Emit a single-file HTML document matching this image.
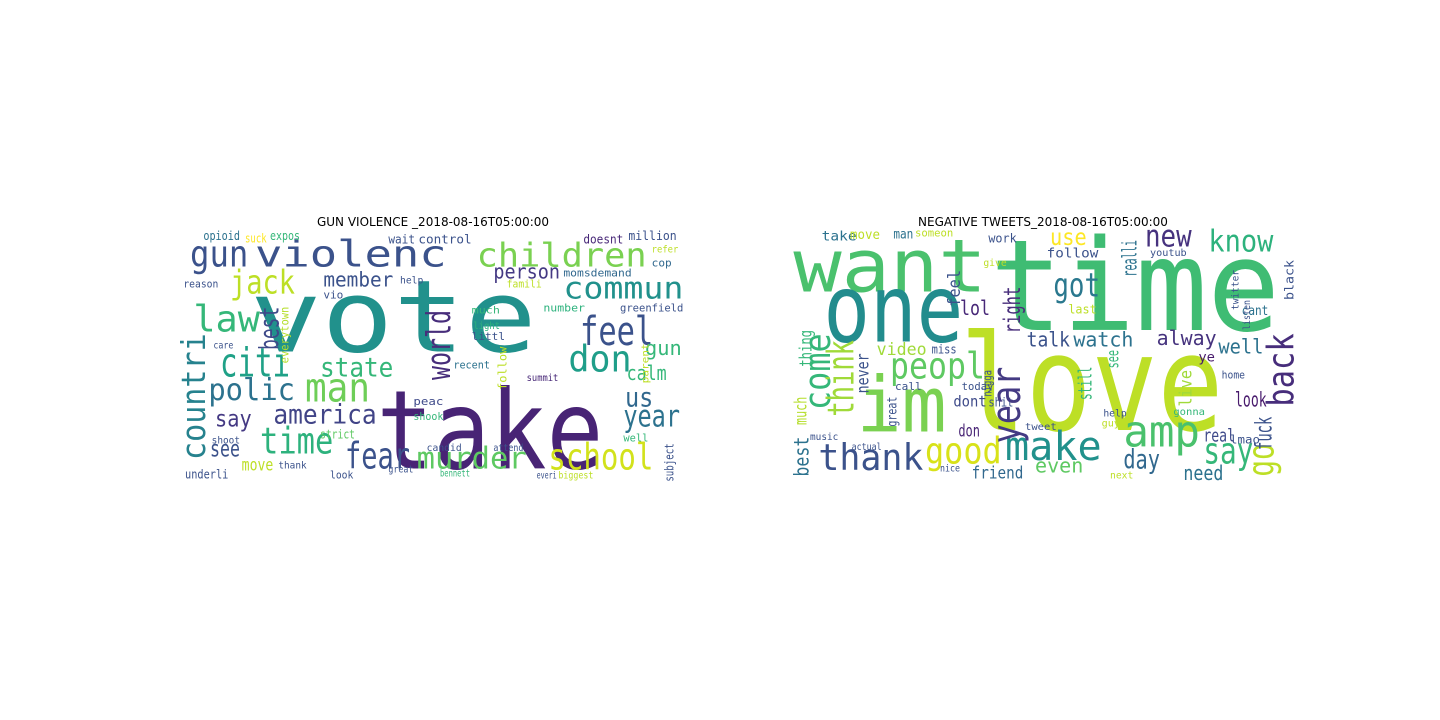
<!DOCTYPE html>
<html><head><meta charset="utf-8"><style>
html,body{margin:0;padding:0;background:#fff;}
svg{display:block;}
text{font-family:"DejaVu Sans Mono","Liberation Mono",monospace;}
.t{font-family:"DejaVu Sans","Liberation Sans",sans-serif;font-size:12px;fill:#000;}
</style></head><body>
<svg id="chart" width="1440" height="720" viewBox="0 0 1440 720" xmlns="http://www.w3.org/2000/svg">
<rect width="1440" height="720" fill="#fff"/>
<text class="t" x="433" y="226" text-anchor="middle">GUN VIOLENCE _2018-08-16T05:00:00</text>
<text class="t" x="1043" y="226" text-anchor="middle">NEGATIVE TWEETS_2018-08-16T05:00:00</text>
<g id="left"></g>
<g id="right"></g>
</svg>
<script>
// [word, start, end, baseline, xHeight, color, rotated]  (zoomed 3x reference coords)
const leftWords = [
["vote",210,1070,365,150,"#21918c",0],
["take",590,1270,715,165,"#482475",0],
["gun",30,205,110,55,"#3b528b",0],
["violenc",225,800,110,55,"#3b528b",0],
["children",890,1400,110,50,"#7ad151",0],
["jack",150,345,190,50,"#bddf26",0],
["commun",1150,1510,205,45,"#21918c",0],
["law",40,240,305,55,"#35b779",0],
["feel",1200,1420,345,60,"#3b528b",0],
["citi",120,330,440,60,"#1fa187",0],
["don",1165,1355,425,55,"#1f9e89",0],
["man",375,570,515,60,"#6ece58",0],
["polic",85,345,510,45,"#2c728e",0],
["america",280,590,580,40,"#414487",0],
["state",420,640,440,40,"#35b779",0],
["time",240,460,670,55,"#2db27d",0],
["fear",495,690,715,55,"#3b528b",0],
["murder",710,1040,715,45,"#5ec962",0],
["school",1105,1420,718,55,"#d2e21b",0],
["year",1330,1500,590,45,"#2c728e",0],
["us",1335,1420,530,40,"#31688e",0],
["say",105,215,590,35,"#443983",0],
["see",90,180,680,35,"#3b528b",0],
["person",940,1140,145,30,"#443983",0],
["member",430,640,170,30,"#3b528b",0],
["gun",1395,1505,375,30,"#35b779",0],
["calm",1340,1460,450,30,"#35b779",0],
["move",185,280,722,25,"#bddf26",0],
["underli",15,145,745,18,"#3b528b",0],
["opioid",70,180,30,18,"#2c728e",0],
["suck",195,260,37,18,"#fde725",0],
["expos",270,360,30,18,"#35b779",0],
["wait",625,705,40,18,"#3b528b",0],
["control",715,875,40,18,"#3b528b",0],
["doesnt",1210,1330,40,18,"#482878",0],
["million",1345,1490,30,18,"#3b528b",0],
["momsdemand",1150,1355,140,16,"#31688e",0],
["reason",10,115,172,16,"#3b528b",0],
["greenfield",1320,1510,245,16,"#3b528b",0],
["number",1090,1215,245,16,"#2db27d",0],
["recent",820,930,415,16,"#2c728e",0],
["shook",700,790,570,16,"#35b779",0],
["strict",420,525,625,18,"#5ec962",0],
["bennett",780,870,740,14,"#35b779",0],
["thank",295,380,715,15,"#3b528b",0],
["shoot",95,180,640,15,"#3b528b",0],
["peac",700,790,525,16,"#3e4989",0],
["candid",740,845,663,14,"#3b528b",0],
["subject",755,640,1480,18,"#3b528b",1],
["well",1330,1405,635,16,"#35b779",0],
["look",450,520,745,16,"#3b528b",0],
["littl",875,975,330,16,"#3b528b",0],
["light",880,960,297,15,"#2db27d",0],
["much",875,960,250,15,"#35b779",0],
["help",660,730,160,15,"#3b528b",0],
["famili",980,1085,172,16,"#bddf26",0],
["cop",1415,1475,110,16,"#31688e",0],
["refer",1415,1495,68,14,"#bddf26",0],
["countri",690,310,75,50,"#26828e",1],
["world",450,240,810,50,"#472d7b",1],
["best",360,230,295,40,"#3e4989",1],
["everytown",400,230,325,17,"#b5de2b",1],
["follow",480,350,980,17,"#bddf26",1],
["parent",460,340,1405,15,"#bddf26",1],
["vio",430,490,205,16,"#3b528b",0],
["care",100,160,355,14,"#3b528b",0],
["summit",1040,1135,453,14,"#482878",0],
["attend",940,1030,663,14,"#3b528b",0],
["great",625,700,727,14,"#3b528b",0],
["biggest",1135,1240,745,14,"#bddf26",0],
["everi",1070,1130,745,14,"#3b528b",0]
];
const rightWords = [
["time",600,1470,300,190,"#3fbc73",0],
["love",510,1300,600,200,"#bddf26",0],
["want",10,590,185,110,"#4ac16d",0],
["one",100,520,335,140,"#228c8d",0],
["im",200,470,605,115,"#7ad151",0],
["amp",1000,1230,650,65,"#4ac16d",0],
["make",645,935,690,60,"#21918c",0],
["thank",85,400,720,55,"#3b528b",0],
["good",405,635,700,55,"#d8e219",0],
["say",1240,1390,700,55,"#35b779",0],
["peopl",300,585,445,55,"#5ec962",0],
["got",790,930,200,50,"#2a788e",0],
["know",1255,1450,65,45,"#2db27d",0],
["new",1065,1205,50,45,"#46327e",0],
["use",780,890,45,35,"#fde725",0],
["talk",710,840,350,30,"#3b528b",0],
["watch",850,1030,350,30,"#2c728e",0],
["alway",1100,1280,345,30,"#46337e",0],
["well",1285,1420,370,30,"#2c728e",0],
["lol",510,600,255,30,"#482878",0],
["day",1000,1110,715,40,"#31688e",0],
["need",1180,1300,750,30,"#2c728e",0],
["even",735,880,728,30,"#5ec962",0],
["look",1335,1430,530,30,"#481a6c",0],
["real",1240,1335,635,27,"#3e4989",0],
["friend",545,700,745,25,"#31688e",0],
["video",260,410,375,25,"#a0da39",0],
["dont",490,590,530,22,"#3e4a89",0],
["don",505,570,620,25,"#482475",0],
["take",95,200,32,20,"#2c728e",0],
["move",180,270,27,20,"#bddf26",0],
["man",310,370,25,20,"#2c728e",0],
["someon",375,490,20,16,"#bddf26",0],
["work",595,680,37,18,"#3b528b",0],
["follow",770,925,83,20,"#3b528b",0],
["miss",425,500,370,18,"#3b528b",0],
["shit",595,670,530,18,"#3b528b",0],
["call",315,395,480,16,"#3b528b",0],
["today",515,610,480,16,"#3b528b",0],
["cant",1355,1435,255,20,"#2c728e",0],
["last",835,920,250,18,"#bddf26",0],
["ye",1225,1275,395,20,"#481a6c",0],
["lmao",1320,1410,640,17,"#3b528b",0],
["home",1295,1365,445,16,"#3b528b",0],
["music",60,145,630,15,"#3b528b",0],
["actual",185,275,660,15,"#3b528b",0],
["tweet",705,800,600,15,"#3b528b",0],
["nice",450,510,725,15,"#3b528b",0],
["youtub",1080,1190,78,15,"#3b528b",0],
["give",580,650,108,15,"#bddf26",0],
["help",940,1010,560,15,"#3b528b",0],
["gonna",1150,1245,555,15,"#35b779",0],
["guy",935,990,590,15,"#bddf26",0],
["next",960,1030,745,15,"#bddf26",0],
["go",740,640,1450,55,"#bddf26",1],
["back",530,310,1510,55,"#472d7b",1],
["come",540,310,120,55,"#35b779",1],
["think",560,330,190,55,"#a0da39",1],
["year",640,410,690,60,"#443a83",1],
["right",310,170,690,35,"#472d7b",1],
["fuck",660,560,1445,35,"#3b528b",1],
["best",740,620,55,30,"#2c728e",1],
["much",585,500,50,25,"#b5de2b",1],
["thing",410,300,65,25,"#35b779",1],
["never",490,370,235,25,"#3b528b",1],
["feel",230,120,510,25,"#3b528b",1],
["realli",140,30,1040,30,"#2c728e",1],
["still",510,410,905,28,"#35b779",1],
["see",415,360,985,25,"#35b779",1],
["live",530,420,1205,25,"#a0da39",1],
["nigga",500,420,605,18,"#3b528b",1],
["great",590,500,320,20,"#3b528b",1],
["black",210,90,1510,18,"#3b528b",1],
["twitter",240,120,1345,15,"#3b528b",1],
["listen",300,210,1380,15,"#3b528b",1]
];

function draw(gid, words, ox, oy, prefix){
  const g = document.getElementById(gid);
  const NS = "http://www.w3.org/2000/svg";
  words.forEach(w => {
    const [txt,a,b,base,xh,col,rot] = w;
    const t = document.createElementNS(NS,"text");
    const fs = xh/0.5/3;
    const len = Math.abs(b-a)/3;
    t.textContent = txt;
    t.setAttribute("font-size", fs.toFixed(2));
    t.setAttribute("fill", col);
    t.setAttribute("textLength", len.toFixed(2));
    t.setAttribute("lengthAdjust", "spacingAndGlyphs");
    if(rot){
      const x = ox + base/3, y = oy + a/3;
      t.setAttribute("transform", `translate(${x.toFixed(2)},${y.toFixed(2)}) rotate(-90)`);
    } else {
      t.setAttribute("x", (ox + a/3).toFixed(2));
      t.setAttribute("y", (oy + base/3).toFixed(2));
    }
    
    
    g.appendChild(t);
  });
}
draw("left", leftWords, 180, 230, "gun-violence");
draw("right", rightWords, 790, 230, "negative-tweets");
</script>
</body></html>
